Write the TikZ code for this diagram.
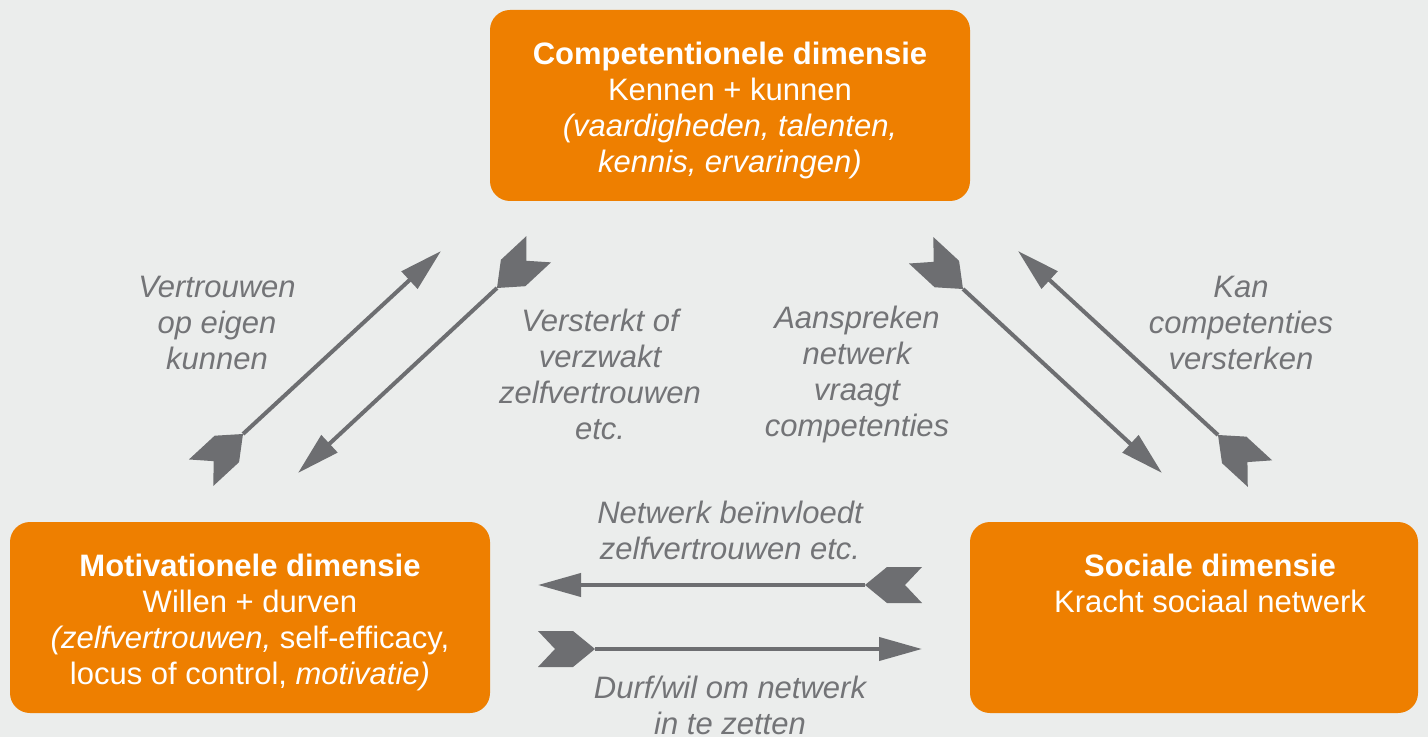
\documentclass[tikz,border=0pt]{standalone}
\usepackage{fontspec}
\setmainfont{Liberation Sans}
\usetikzlibrary{arrows.meta}
\definecolor{bg}{HTML}{EBEDEC}
\definecolor{dimorange}{HTML}{EE7F00}
\definecolor{agray}{HTML}{6D6E71}
\definecolor{lgray}{HTML}{737477}
\newcommand{\toppad}{\rule{0pt}{16.3pt}}
\begin{document}
\begin{tikzpicture}[x=0.5pt,y=-0.5pt,
  dimbox/.style={fill=dimorange, rounded corners=10pt, minimum width=240pt, minimum height=95.5pt, inner sep=0pt},
  dimtext/.style={text=white, align=center, font=\fontsize{15.5pt}{18pt}\selectfont},
  lbl/.style={text=lgray, align=center, font=\fontsize{15.5pt}{18pt}\selectfont\itshape},
  conn/.style={draw=agray, line width=2pt, -{Triangle[length=21.5pt,width=11.5pt]}},
  fletch/.pic={\fill[agray] (0,0) -- (-22,18) -- (-57,18) -- (-40,0) -- (-57,-18) -- (-22,-18) -- cycle;},
]
\fill[bg] (0,0) rectangle (1428,737);
\useasboundingbox (0,0) rectangle (1428,737);

% boxes
\node[dimbox, dimtext] (comp) at (730,105.5) {\toppad\textbf{Competentionele dimensie}\\Kennen + kunnen\\\textit{(vaardigheden, talenten,}\\\textit{kennis, ervaringen)}};
\node[dimbox, dimtext] (motiv) at (250,617.5) {\toppad\textbf{Motivationele dimensie}\\Willen + durven\\\textit{(zelfvertrouwen,} self-efficacy,\\locus of control, \textit{motivatie)}};
\node[dimbox, minimum width=224pt] (soc) at (1194,617.5) {};
\node[dimtext] (soctext) at (1210,583) {\textbf{Sociale dimensie}\\Kracht sociaal netwerk};

% labels
\node[lbl] (l1) at (217,323) {Vertrouwen\\op eigen\\kunnen};
\node[lbl] (l2) at (600,374) {Versterkt of\\verzwakt\\zelfvertrouwen\\etc.};
\node[lbl] (l3) at (857,374) {Aanspreken\\netwerk\\vraagt\\competenties};
\node[lbl] (l4) at (1241,323) {Kan\\competenties\\versterken};
\node[lbl] (l5) at (730,530) {Netwerk beïnvloedt\\zelfvertrouwen etc.};
\node[lbl] (l6) at (730,705) {Durf/wil om netwerk\\in te zetten};

% connector end points
\coordinate (aT) at (243,434); \coordinate (aH) at (441,251);
\coordinate (bT) at (497,288); \coordinate (bH) at (298,473);
\coordinate (cT) at (963,289); \coordinate (cH) at (1162,473);
\coordinate (dT) at (1218,435); \coordinate (dH) at (1018,251);
\coordinate (eT) at (865,585); \coordinate (eH) at (538,585);
\coordinate (fT) at (595,649); \coordinate (fH) at (922,649);

\foreach \p in {a,b,c,d,e,f}{
  \draw[conn] (\p T) -- (\p H);
  \path (\p T) -- (\p H) pic[pos=0, sloped, allow upside down] {fletch};
}
\end{tikzpicture}
\end{document}
